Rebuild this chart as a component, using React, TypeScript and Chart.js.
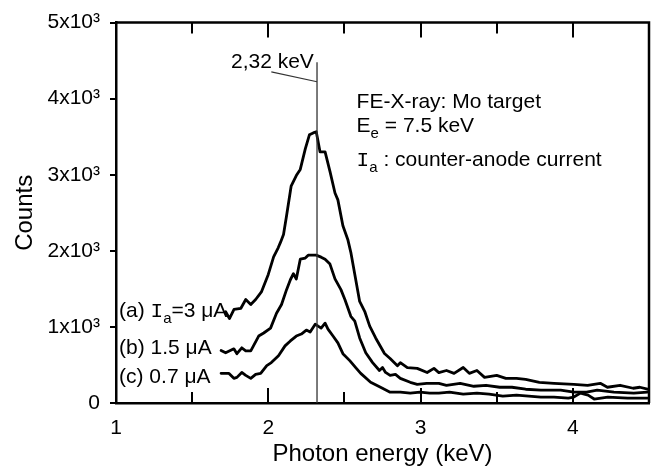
import React, { useEffect, useRef } from "react";
import { Chart, registerables } from "chart.js";

Chart.register(...registerables);

// ---- Data (photon energy in keV, counts) ----
const energyA = [1.72, 1.745, 1.775, 1.82, 1.852, 1.885, 1.917, 1.956, 2.0, 2.035, 2.065, 2.08, 2.1, 2.12, 2.15, 2.184, 2.21, 2.243, 2.27, 2.295, 2.315, 2.34, 2.373, 2.405, 2.438, 2.457, 2.49, 2.522, 2.542, 2.6, 2.633, 2.666, 2.705, 2.763, 2.8, 2.848, 2.867, 2.913, 2.978, 3.043, 3.088, 3.12, 3.17, 3.22, 3.28, 3.32, 3.37, 3.42, 3.5, 3.56, 3.63, 3.69, 3.78, 3.876, 4.006, 4.097, 4.18, 4.227, 4.31, 4.396, 4.44, 4.49];
const countsA = [1200, 1110, 1230, 1245, 1360, 1295, 1360, 1465, 1690, 1920, 2040, 2111, 2215, 2460, 2850, 2990, 3070, 3340, 3525, 3550, 3565, 3300, 3300, 3045, 2760, 2670, 2330, 2150, 1980, 1335, 1205, 1010, 855, 650, 585, 490, 530, 465, 455, 400, 455, 400, 427, 390, 466, 390, 427, 337, 363, 324, 324, 311, 272, 259, 246, 233, 259, 207, 233, 194, 207, 181];

const energyB = [1.69, 1.72, 1.774, 1.794, 1.826, 1.852, 1.885, 1.937, 1.97, 2.015, 2.054, 2.087, 2.12, 2.145, 2.165, 2.184, 2.21, 2.243, 2.262, 2.314, 2.347, 2.373, 2.405, 2.438, 2.477, 2.503, 2.542, 2.568, 2.6, 2.64, 2.685, 2.73, 2.75, 2.77, 2.8, 2.835, 2.867, 2.932, 2.978, 3.04, 3.12, 3.17, 3.26, 3.35, 3.43, 3.52, 3.6, 3.69, 3.79, 3.92, 4.006, 4.09, 4.16, 4.27, 4.4, 4.49];
const countsB = [690, 660, 712, 648, 725, 686, 686, 880, 920, 984, 1180, 1295, 1490, 1620, 1700, 1630, 1890, 1905, 1943, 1943, 1917, 1890, 1826, 1632, 1490, 1360, 1140, 1075, 855, 660, 531, 427, 466, 402, 363, 376, 324, 272, 246, 259, 259, 233, 259, 220, 233, 207, 207, 181, 168, 168, 142, 142, 168, 142, 130, 142];

const energyC = [1.69, 1.71, 1.742, 1.774, 1.794, 1.826, 1.852, 1.885, 1.917, 1.95, 1.99, 2.02, 2.067, 2.11, 2.145, 2.184, 2.217, 2.25, 2.275, 2.308, 2.327, 2.347, 2.373, 2.392, 2.425, 2.457, 2.49, 2.535, 2.574, 2.607, 2.672, 2.737, 2.8, 2.867, 2.932, 2.997, 3.06, 3.12, 3.19, 3.28, 3.37, 3.45, 3.54, 3.63, 3.71, 3.79, 3.876, 3.97, 4.006, 4.05, 4.1, 4.14, 4.23, 4.36, 4.49];
const countsC = [390, 389, 389, 324, 337, 402, 363, 324, 376, 389, 492, 531, 622, 751, 816, 880, 906, 958, 932, 1036, 1010, 984, 1049, 971, 880, 790, 648, 557, 466, 389, 272, 207, 142, 142, 130, 142, 130, 130, 142, 117, 130, 117, 91, 104, 91, 78, 78, 65, 78, 130, 104, 52, 78, 65, 65];

const peakEnergy = 2.32;
const peakLineTop = 4480;
const leaderStart = [2.02, 4352];
const leaderEnd = [2.32, 4222];

const xTickLabels = ["1", "2", "3", "4"];
const yTickLabels = ["0", "1x10³", "2x10³", "3x10³", "4x10³", "5x10³"];

const FONT = "'Liberation Sans', Arial, Helvetica, sans-serif";
const MONO = "'Liberation Mono', 'DejaVu Sans Mono', monospace";

type Seg = { t: string; font: string; dy?: number };

const annotations: { x: number; y: number; segs: Seg[] }[] = [
  { x: 1.755, y: 4404, segs: [{ t: "2,32 keV", font: `21px ${FONT}` }] },
  { x: 2.58, y: 3873, segs: [{ t: "FE-X-ray: Mo target", font: `21px ${FONT}` }] },
  {
    x: 2.58,
    y: 3562,
    segs: [
      { t: "E", font: `21px ${FONT}` },
      { t: "e", font: `15px ${FONT}`, dy: 6 },
      { t: " = 7.5 keV", font: `21px ${FONT}` },
    ],
  },
  {
    x: 2.58,
    y: 3109,
    segs: [
      { t: "I", font: `21px ${MONO}` },
      { t: "a", font: `15px ${FONT}`, dy: 6 },
      { t: " : counter-anode current", font: `21px ${FONT}` },
    ],
  },
  {
    x: 1.02,
    y: 1127,
    segs: [
      { t: "(a) ", font: `21px ${FONT}` },
      { t: "I", font: `21px ${MONO}` },
      { t: "a", font: `15px ${FONT}`, dy: 6 },
      { t: "=3 μA", font: `21px ${FONT}` },
    ],
  },
  { x: 1.02, y: 648, segs: [{ t: "(b) 1.5 μA", font: `21px ${FONT}` }] },
  { x: 1.02, y: 259, segs: [{ t: "(c) 0.7 μA", font: `21px ${FONT}` }] },
];

const toPts = (xs: number[], ys: number[]) => xs.map((x, i) => ({ x, y: ys[i] }));

const decorPlugin = {
  id: "decor",
  afterDraw(chart: any) {
    const { ctx, chartArea: ca } = chart;
    const xs = chart.scales.x;
    const ys = chart.scales.y;
    ctx.save();
    ctx.strokeStyle = "#000";
    ctx.lineWidth = 2.5;
    ctx.beginPath();
    ctx.moveTo(ca.left, ca.top);
    ctx.lineTo(ca.right, ca.top);
    ctx.lineTo(ca.right, ca.bottom);
    ctx.stroke();

    ctx.lineWidth = 2;
    for (const t of xs.ticks) {
      const v = t.value;
      if (v <= xs.min + 1e-9 || v >= xs.max - 1e-9) continue;
      const px = Math.round(xs.getPixelForValue(v));
      const len = Math.abs(v - Math.round(v)) < 1e-6 ? 15 : 11;
      ctx.beginPath();
      ctx.moveTo(px, ca.bottom);
      ctx.lineTo(px, ca.bottom - len);
      ctx.moveTo(px, ca.top);
      ctx.lineTo(px, ca.top + len);
      ctx.stroke();
    }

    ctx.fillStyle = "#000";
    ctx.textBaseline = "alphabetic";
    ctx.textAlign = "left";
    for (const a of annotations) {
      let cx = xs.getPixelForValue(a.x);
      const by = ys.getPixelForValue(a.y);
      for (const s of a.segs) {
        ctx.font = s.font;
        ctx.fillText(s.t, cx, by + (s.dy || 0));
        cx += ctx.measureText(s.t).width;
      }
    }
    ctx.restore();
  },
};

export default function App() {
  const ref = useRef<HTMLCanvasElement | null>(null);
  useEffect(() => {
    if (!ref.current) return;
    Chart.defaults.font.family = FONT;
    Chart.defaults.color = "#000";
    const lineDs = (label: string, xs: number[], ys: number[]) => ({
      label,
      data: toPts(xs, ys),
      borderColor: "#000",
      borderWidth: 2.8,
      pointRadius: 0,
      tension: 0,
      fill: false,
      borderJoinStyle: "round" as const,
      borderCapStyle: "round" as const,
    });
    const chart = new Chart(ref.current, {
      type: "line",
      data: {
        datasets: [
          {
            label: "peak",
            data: [
              { x: peakEnergy, y: 0 },
              { x: peakEnergy, y: peakLineTop },
            ],
            borderColor: "#333",
            borderWidth: 1.3,
            pointRadius: 0,
          },
          {
            label: "leader",
            data: [
              { x: leaderStart[0], y: leaderStart[1] },
              { x: leaderEnd[0], y: leaderEnd[1] },
            ],
            borderColor: "#333",
            borderWidth: 1.1,
            pointRadius: 0,
          },
          lineDs("a", energyA, countsA),
          lineDs("b", energyB, countsB),
          lineDs("c", energyC, countsC),
        ],
      },
      options: {
        responsive: false,
        animation: false,
        layout: { padding: { top: 17, right: 9, left: 0, bottom: 0 } },
        plugins: { legend: { display: false }, tooltip: { enabled: false } },
        scales: {
          x: {
            type: "linear",
            min: 1,
            max: 4.5,
            afterFit: (s: any) => {
              s.height = 69;
            },
            grid: { display: false, drawTicks: false },
            border: { display: true, color: "#000", width: 2.5 },
            ticks: {
              stepSize: 0.5,
              autoSkip: false,
              maxRotation: 0,
              padding: 13,
              font: { size: 21, family: FONT },
              color: "#000",
              callback: (v: any) => {
                const n = Number(v);
                if (Math.abs(n - Math.round(n)) > 1e-6) return "";
                const i = Math.round(n) - 1;
                return xTickLabels[i] ?? "";
              },
            },
            title: {
              display: true,
              text: "Photon energy (keV)",
              font: { size: 24, family: FONT },
              color: "#000",
              padding: { top: 0, bottom: 3 },
            },
          },
          y: {
            type: "linear",
            min: 0,
            max: 5000,
            afterFit: (s: any) => {
              s.width = 116;
            },
            grid: {
              display: true,
              drawOnChartArea: false,
              drawTicks: true,
              tickLength: 6,
              color: "#000",
              lineWidth: 2,
            },
            border: { display: true, color: "#000", width: 2.5 },
            ticks: {
              stepSize: 1000,
              padding: 10,
              font: { size: 21, family: FONT },
              color: "#000",
              callback: (v: any) => yTickLabels[Math.round(Number(v) / 1000)] ?? "",
            },
            title: {
              display: true,
              text: "Counts",
              font: { size: 24, family: FONT },
              color: "#000",
              padding: { top: 11, bottom: 0 },
            },
          },
        },
      },
      plugins: [decorPlugin],
    } as any);
    return () => chart.destroy();
  }, []);
  return (
    <div style={{ position: "fixed", left: 0, top: 0, width: 662, height: 472, background: "#fff" }}>
      <canvas ref={ref} width={662} height={472} style={{ display: "block" }} />
    </div>
  );
}
